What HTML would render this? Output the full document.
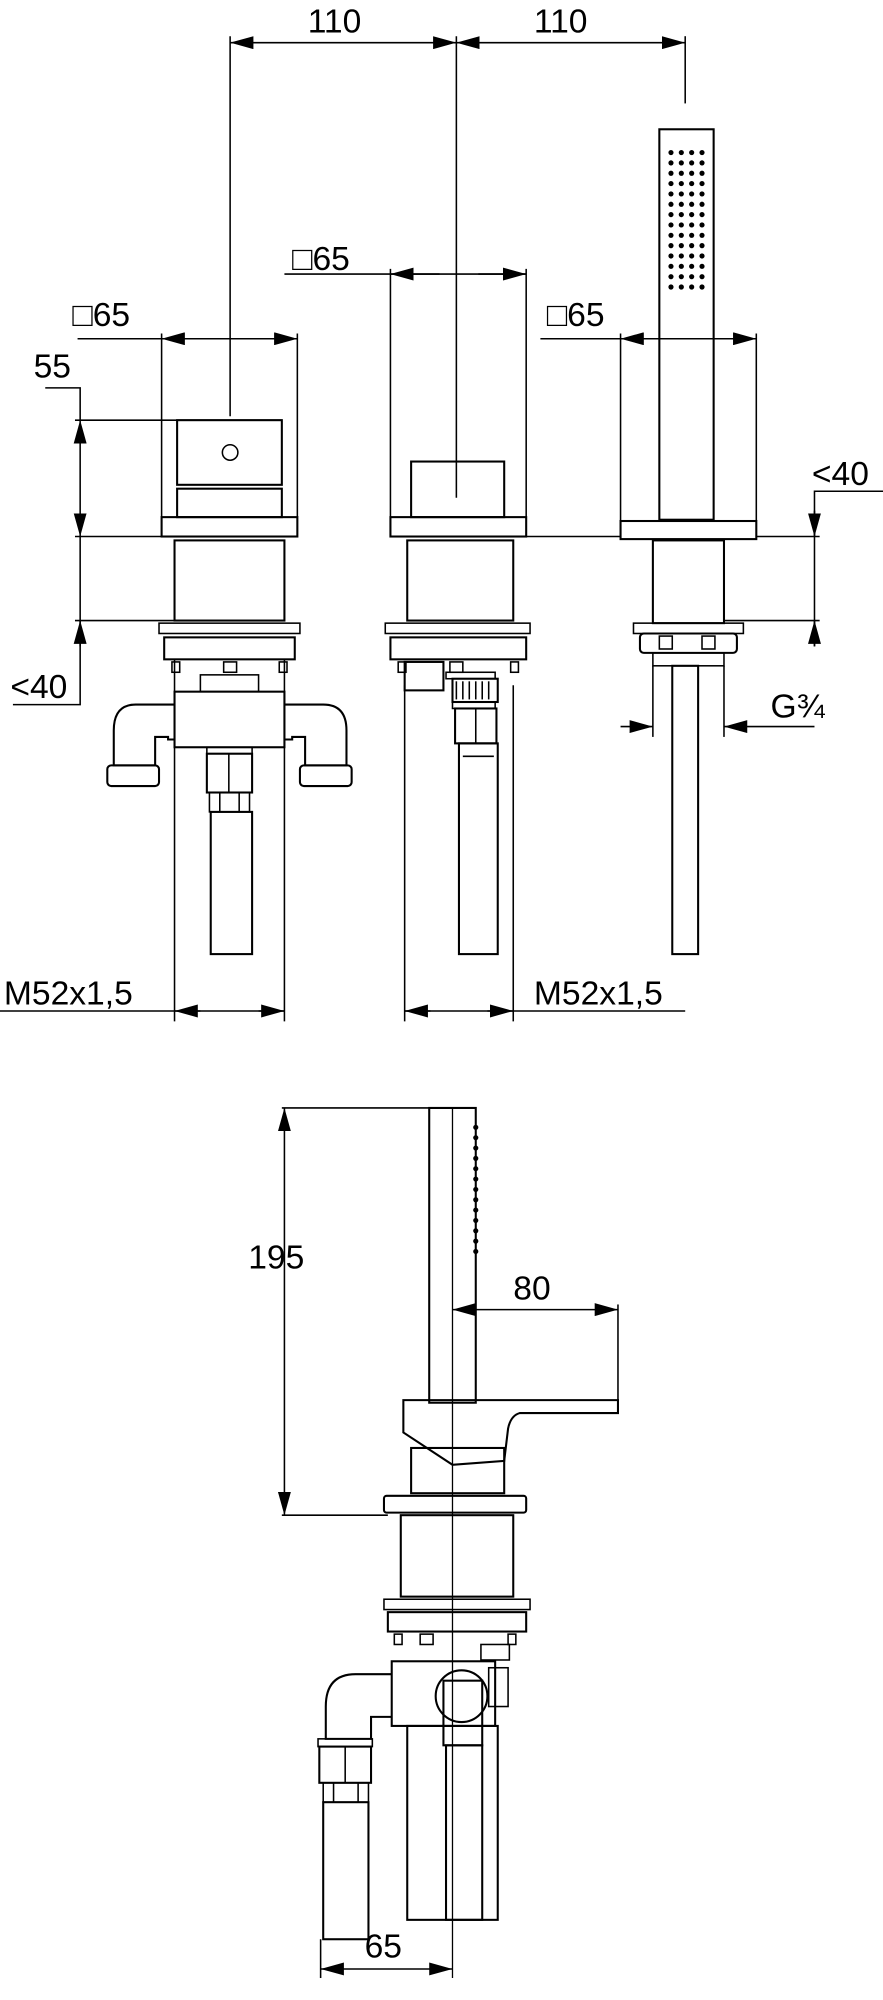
<!DOCTYPE html>
<html><head><meta charset="utf-8"><style>
html,body{margin:0;padding:0;background:#fff}
svg{display:block}
text{font-family:"Liberation Sans",sans-serif;fill:#000}
</style></head><body>
<svg width="883" height="2000" viewBox="0 0 683 1547" xmlns="http://www.w3.org/2000/svg">
<defs>
<marker id="a" markerUnits="userSpaceOnUse" markerWidth="18" markerHeight="10" refX="18" refY="5" orient="auto-start-reverse"><path d="M0,0 L18,5 L0,10z" fill="#000"/></marker>
</defs>
<g fill="none" stroke="#000" stroke-width="1.2">
<line x1="178" y1="33" x2="353" y2="33" marker-start="url(#a)" marker-end="url(#a)"/>
<line x1="353" y1="33" x2="530" y2="33" marker-start="url(#a)" marker-end="url(#a)"/>
<line x1="178" y1="28" x2="178" y2="322"/>
<line x1="353" y1="28" x2="353" y2="385"/>
<line x1="530" y1="28" x2="530" y2="80"/>

<line x1="60" y1="262" x2="230" y2="262"/>
<line x1="125" y1="262" x2="165" y2="262" marker-start="url(#a)"/>
<line x1="190" y1="262" x2="230" y2="262" marker-end="url(#a)"/>
<line x1="125" y1="258" x2="125" y2="400"/><line x1="230" y1="258" x2="230" y2="400"/>
<rect x="137" y="325" width="81" height="50" stroke-width="1.6"/>
<circle cx="178" cy="350" r="6"/>
<rect x="137" y="378" width="81" height="22" stroke-width="1.6"/>
<rect x="125" y="400" width="105" height="15" stroke-width="1.6"/>
<rect x="135" y="418" width="85" height="62" stroke-width="1.6"/>
<rect x="123" y="482" width="109" height="8"/>
<rect x="127" y="493" width="101" height="17" stroke-width="1.6"/>
<rect x="133" y="512" width="6" height="8"/><rect x="216" y="512" width="6" height="8"/>
<rect x="173" y="512" width="10" height="8"/>
<rect x="155" y="522" width="45" height="13"/>
<rect x="135" y="535" width="85" height="43" stroke-width="1.6"/>
<path d="M135,545 H105 Q88,545 88,565 V592 H120 V570 H130 V572 H135" stroke-width="1.6"/>
<rect x="83" y="592" width="40" height="16" rx="3" stroke-width="1.6"/>
<path d="M220,545 H250 Q268,545 268,565 V592 H236 V570 H226 V572 H220" stroke-width="1.6"/>
<rect x="232" y="592" width="40" height="16" rx="3" stroke-width="1.6"/>
<rect x="160" y="578" width="35" height="5"/>
<rect x="160" y="583" width="35" height="30" stroke-width="1.6"/>
<line x1="177" y1="583" x2="177" y2="613"/>
<rect x="162" y="613" width="31" height="15"/>
<line x1="170" y1="613" x2="170" y2="628"/><line x1="185" y1="613" x2="185" y2="628"/>
<rect x="163" y="628" width="32" height="110" stroke-width="1.6"/>
<polyline points="35,300 62,300 62,325"/>
<line x1="62" y1="325" x2="62" y2="415" marker-start="url(#a)" marker-end="url(#a)"/>
<line x1="58" y1="325" x2="218" y2="325"/>
<line x1="58" y1="415" x2="125" y2="415"/>
<line x1="58" y1="480" x2="135" y2="480"/>
<line x1="62" y1="415" x2="62" y2="480"/>
<polyline points="62,480 62,545 10,545"/>
<line x1="62" y1="500" x2="62" y2="480" marker-end="url(#a)"/>
<line x1="135" y1="510" x2="135" y2="790"/><line x1="220" y1="510" x2="220" y2="790"/>
<line x1="0" y1="782" x2="220" y2="782"/>
<line x1="155" y1="782" x2="135" y2="782" marker-end="url(#a)"/>
<line x1="200" y1="782" x2="220" y2="782" marker-end="url(#a)"/>

<line x1="220" y1="212" x2="407" y2="212"/>
<line x1="302" y1="212" x2="340" y2="212" marker-start="url(#a)"/>
<line x1="370" y1="212" x2="407" y2="212" marker-end="url(#a)"/>
<line x1="302" y1="208" x2="302" y2="400"/><line x1="407" y1="208" x2="407" y2="400"/>
<rect x="318" y="357" width="72" height="43" stroke-width="1.6"/>
<rect x="302" y="400" width="105" height="15" stroke-width="1.6"/>
<line x1="407" y1="415" x2="480" y2="415"/>
<rect x="315" y="418" width="82" height="62" stroke-width="1.6"/>
<rect x="298" y="482" width="112" height="8"/>
<rect x="302" y="493" width="105" height="17" stroke-width="1.6"/>
<rect x="308" y="512" width="6" height="8"/><rect x="395" y="512" width="6" height="8"/>
<rect x="348" y="512" width="10" height="8"/>
<rect x="313" y="512" width="30" height="22" stroke-width="1.6"/>
<rect x="345" y="520" width="38" height="5"/>
<rect x="350" y="525" width="35" height="18" stroke-width="1.6"/>
<line x1="353" y1="527" x2="353" y2="541"/><line x1="358" y1="527" x2="358" y2="541"/><line x1="363" y1="527" x2="363" y2="541"/><line x1="368" y1="527" x2="368" y2="541"/><line x1="373" y1="527" x2="373" y2="541"/><line x1="378" y1="527" x2="378" y2="541"/>
<rect x="350" y="543" width="33" height="5"/>
<rect x="352" y="548" width="32" height="27" stroke-width="1.6"/>
<line x1="368" y1="548" x2="368" y2="575"/>
<rect x="355" y="575" width="30" height="163" stroke-width="1.6"/>
<line x1="358" y1="585" x2="382" y2="585"/>
<line x1="313" y1="530" x2="313" y2="790"/><line x1="397" y1="530" x2="397" y2="790"/>
<line x1="313" y1="782" x2="530" y2="782"/>
<line x1="333" y1="782" x2="313" y2="782" marker-end="url(#a)"/>
<line x1="377" y1="782" x2="397" y2="782" marker-end="url(#a)"/>

<line x1="418" y1="262" x2="585" y2="262"/>
<line x1="480" y1="262" x2="515" y2="262" marker-start="url(#a)"/>
<line x1="550" y1="262" x2="585" y2="262" marker-end="url(#a)"/>
<line x1="480" y1="258" x2="480" y2="403"/><line x1="585" y1="258" x2="585" y2="403"/>
<rect x="510" y="100" width="42" height="302" stroke-width="1.6"/>
<rect x="480" y="403" width="105" height="14" stroke-width="1.6"/>
<rect x="505" y="418" width="55" height="64" stroke-width="1.6"/>
<rect x="490" y="482" width="85" height="8"/>
<rect x="495" y="490" width="75" height="15" rx="3" stroke-width="1.6"/>
<rect x="510" y="492" width="10" height="10"/><rect x="543" y="492" width="10" height="10"/>
<rect x="505" y="505" width="55" height="10"/>
<rect x="520" y="515" width="20" height="223" stroke-width="1.6"/>
<line x1="505" y1="515" x2="505" y2="570"/><line x1="560" y1="515" x2="560" y2="570"/>
<line x1="480" y1="562" x2="505" y2="562" marker-end="url(#a)"/>
<line x1="630" y1="562" x2="560" y2="562" marker-end="url(#a)"/>
<polyline points="683,380 630,380 630,415"/>
<line x1="630" y1="395" x2="630" y2="415" marker-end="url(#a)"/>
<line x1="585" y1="415" x2="634" y2="415"/>
<line x1="560" y1="480" x2="634" y2="480"/>
<line x1="630" y1="415" x2="630" y2="500"/>
<line x1="630" y1="500" x2="630" y2="480" marker-end="url(#a)"/>

<line x1="350" y1="857" x2="350" y2="1530" stroke-width="1"/>
<rect x="332" y="857" width="36" height="228" stroke-width="1.6"/>
<line x1="218" y1="857" x2="350" y2="857"/>
<line x1="220" y1="857" x2="220" y2="1172" marker-start="url(#a)" marker-end="url(#a)"/>
<line x1="218" y1="1172" x2="300" y2="1172"/>
<line x1="350" y1="1013" x2="478" y2="1013" marker-start="url(#a)" marker-end="url(#a)"/>
<line x1="478" y1="1009" x2="478" y2="1083"/>
<path d="M312,1083 H478 V1093 H402 Q395,1095 393,1105 L390,1130 L350,1133 L312,1108 Z" stroke-width="1.6"/>
<rect x="318" y="1120" width="72" height="35" stroke-width="1.6"/>
<rect x="297" y="1157" width="110" height="13" rx="2" stroke-width="1.6"/>
<rect x="310" y="1172" width="87" height="63" stroke-width="1.6"/>
<rect x="297" y="1237" width="113" height="8"/>
<rect x="300" y="1247" width="107" height="15" stroke-width="1.6"/>
<rect x="305" y="1264" width="6" height="8"/><rect x="393" y="1264" width="6" height="8"/>
<rect x="325" y="1264" width="10" height="8"/>
<rect x="372" y="1272" width="22" height="12"/>
<rect x="303" y="1285" width="80" height="50" stroke-width="1.6"/>
<circle cx="357" cy="1312" r="20" stroke-width="1.6"/>
<rect x="343" y="1300" width="30" height="50" stroke-width="1.6"/>
<rect x="345" y="1350" width="28" height="135" stroke-width="1.6"/>
<rect x="315" y="1335" width="70" height="150" stroke-width="1.6"/>
<rect x="378" y="1290" width="15" height="30"/>
<path d="M303,1295 H275 Q252,1295 252,1320 V1345 H287 V1328 H303" stroke-width="1.6"/>
<rect x="246" y="1345" width="42" height="6"/>
<rect x="247" y="1351" width="40" height="28" stroke-width="1.6"/>
<line x1="267" y1="1351" x2="267" y2="1379"/>
<rect x="250" y="1379" width="35" height="15"/>
<line x1="258" y1="1379" x2="258" y2="1394"/><line x1="277" y1="1379" x2="277" y2="1394"/>
<rect x="250" y="1394" width="35" height="106" stroke-width="1.6"/>
<line x1="248" y1="1500" x2="248" y2="1530"/>
<line x1="248" y1="1523" x2="350" y2="1523" marker-start="url(#a)" marker-end="url(#a)"/>
</g>
<g fill="#000">
<circle cx="519" cy="118" r="2"/><circle cx="527" cy="118" r="2"/><circle cx="535" cy="118" r="2"/><circle cx="543" cy="118" r="2"/>
<circle cx="519" cy="126" r="2"/><circle cx="527" cy="126" r="2"/><circle cx="535" cy="126" r="2"/><circle cx="543" cy="126" r="2"/>
<circle cx="519" cy="134" r="2"/><circle cx="527" cy="134" r="2"/><circle cx="535" cy="134" r="2"/><circle cx="543" cy="134" r="2"/>
<circle cx="519" cy="142" r="2"/><circle cx="527" cy="142" r="2"/><circle cx="535" cy="142" r="2"/><circle cx="543" cy="142" r="2"/>
<circle cx="519" cy="150" r="2"/><circle cx="527" cy="150" r="2"/><circle cx="535" cy="150" r="2"/><circle cx="543" cy="150" r="2"/>
<circle cx="519" cy="158" r="2"/><circle cx="527" cy="158" r="2"/><circle cx="535" cy="158" r="2"/><circle cx="543" cy="158" r="2"/>
<circle cx="519" cy="166" r="2"/><circle cx="527" cy="166" r="2"/><circle cx="535" cy="166" r="2"/><circle cx="543" cy="166" r="2"/>
<circle cx="519" cy="174" r="2"/><circle cx="527" cy="174" r="2"/><circle cx="535" cy="174" r="2"/><circle cx="543" cy="174" r="2"/>
<circle cx="519" cy="182" r="2"/><circle cx="527" cy="182" r="2"/><circle cx="535" cy="182" r="2"/><circle cx="543" cy="182" r="2"/>
<circle cx="519" cy="190" r="2"/><circle cx="527" cy="190" r="2"/><circle cx="535" cy="190" r="2"/><circle cx="543" cy="190" r="2"/>
<circle cx="519" cy="198" r="2"/><circle cx="527" cy="198" r="2"/><circle cx="535" cy="198" r="2"/><circle cx="543" cy="198" r="2"/>
<circle cx="519" cy="206" r="2"/><circle cx="527" cy="206" r="2"/><circle cx="535" cy="206" r="2"/><circle cx="543" cy="206" r="2"/>
<circle cx="519" cy="214" r="2"/><circle cx="527" cy="214" r="2"/><circle cx="535" cy="214" r="2"/><circle cx="543" cy="214" r="2"/>
<circle cx="519" cy="222" r="2"/><circle cx="527" cy="222" r="2"/><circle cx="535" cy="222" r="2"/><circle cx="543" cy="222" r="2"/>
<circle cx="368" cy="872" r="2"/><circle cx="368" cy="880" r="2"/><circle cx="368" cy="888" r="2"/><circle cx="368" cy="896" r="2"/><circle cx="368" cy="904" r="2"/><circle cx="368" cy="912" r="2"/><circle cx="368" cy="920" r="2"/><circle cx="368" cy="928" r="2"/><circle cx="368" cy="936" r="2"/><circle cx="368" cy="944" r="2"/><circle cx="368" cy="952" r="2"/><circle cx="368" cy="960" r="2"/><circle cx="368" cy="968" r="2"/>
</g>
<g font-size="26">
<text x="238" y="25">110</text>
<text x="413" y="25">110</text>
<text x="56" y="252">□65</text>
<text x="226" y="209">□65</text>
<text x="423" y="252">□65</text>
<text x="26" y="292">55</text>
<text x="8" y="540">&lt;40</text>
<text x="628" y="375">&lt;40</text>
<text x="596" y="555">G¾</text>
<text x="3" y="777">M52x1,5</text>
<text x="413" y="777">M52x1,5</text>
<text x="192" y="981">195</text>
<text x="397" y="1005">80</text>
<text x="282" y="1514">65</text>
</g>
</svg>
</body></html>
